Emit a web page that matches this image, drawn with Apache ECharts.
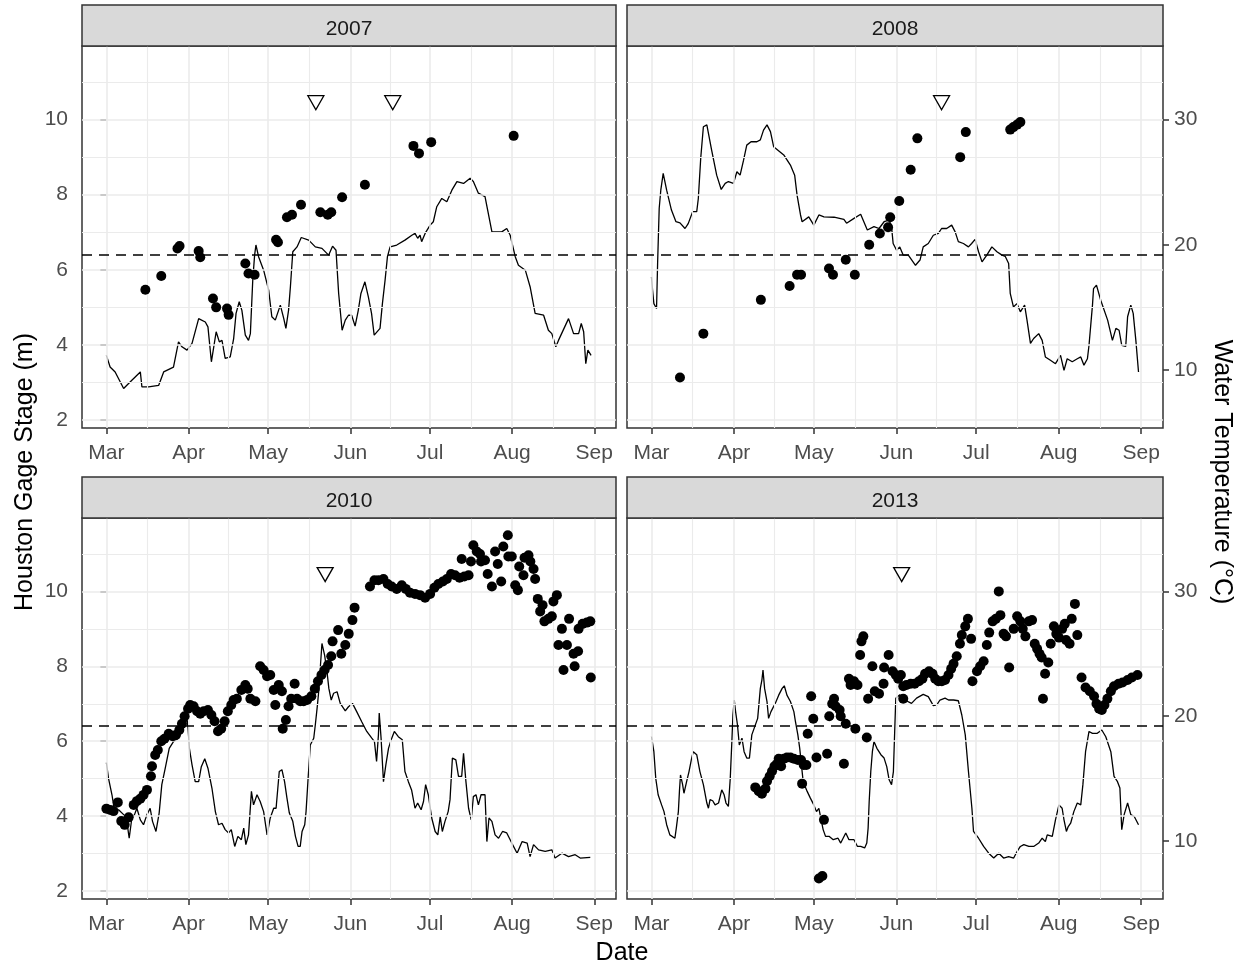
<!DOCTYPE html>
<html><head><meta charset="utf-8">
<script src="https://cdn.jsdelivr.net/npm/echarts@6/dist/echarts.min.js"></script>
<style>html,body{margin:0;padding:0;background:#fff;} #chart{width:1243px;height:966px;}</style>
</head><body><div id="chart"></div>
<script>
// ---------- data ----------
const years = ['2007', '2008', '2010', '2013'];
const monthStarts = [0, 31, 61, 92, 122, 153, 184];   // days since Mar 1
const monthLabels = ['Mar', 'Apr', 'May', 'Jun', 'Jul', 'Aug', 'Sep'];
const monthMids = [15.5, 46, 76.5, 107, 137.5, 168.5];
const stageMajor = [2, 4, 6, 8, 10];
const stageMinor = [3, 5, 7, 9, 11];
const tempTicks = [10, 20, 30];
const thresholdStage = 6.4;
const markerStage = 10.45;
const stageRange = [1.787, 11.96];
const tempPerMetre = 3;

// Houston gage stage (m): [day since Mar 1, stage]
const stage2007 = [[0,3.72],[1.4,3.41],[3.3,3.28],[6.5,2.84],[9.6,3.06],[12.8,3.28],[13.4,2.88],[15.9,2.88],[19.7,2.92],[21.6,3.28],[25.3,3.41],[27.2,4.08],[28.5,3.95],[30.4,3.86],[32.3,4.04],[34.8,4.70],[37.3,4.61],[38.3,4.48],[39.6,3.55],[41.4,4.35],[42.6,4.08],[43.6,4.12],[44.8,3.64],[46.7,3.68],[48.0,4.17],[48.9,4.84],[50.1,5.15],[51.1,4.92],[52.4,4.26],[53.6,4.12],[54.3,4.30],[55.2,5.72],[55.9,6.39],[56.4,6.66],[57.4,6.35],[59.3,5.99],[61.2,5.46],[62.4,4.75],[63.7,4.66],[65.6,5.06],[66.9,4.70],[67.7,4.44],[68.7,4.92],[69.4,5.55],[70.3,6.48],[71.9,6.61],[73.5,6.86],[76.3,6.79],[78.8,6.61],[81.3,6.57],[83.8,6.39],[85.3,6.63],[86.6,6.52],[87.6,5.37],[88.9,4.39],[90.1,4.66],[91.3,4.79],[92.5,4.79],[93.8,4.50],[95,4.92],[96,5.37],[97.5,5.68],[98.8,5.28],[100,4.84],[101,4.26],[103.2,4.44],[104.1,5.10],[105.1,5.72],[106,6.35],[107,6.61],[109.5,6.66],[112.6,6.79],[115.2,6.92],[116.4,6.97],[117.4,6.84],[118.3,6.92],[118.9,6.75],[120.2,6.97],[122.1,7.19],[123.3,7.28],[124.6,7.68],[126.5,7.90],[128.4,7.81],[130.3,8.12],[132.2,8.35],[134.7,8.30],[137.2,8.44],[138.4,8.35],[140.3,8.04],[142.8,7.95],[145.4,7.01],[149.1,7.01],[151,7.10],[152.3,6.92],[154.2,6.35],[155.4,6.12],[158,5.99],[159.8,5.55],[161.7,4.84],[164.9,4.79],[166.7,4.39],[168,4.30],[169.5,3.95],[170.5,4.12],[174.3,4.70],[176.2,4.30],[178.1,4.30],[179.1,4.57],[180,4.35],[180.8,3.50],[181.6,3.86],[182.8,3.72]];
const stage2008 = [[0,5.81],[0.4,5.46],[0.9,5.10],[1.9,4.97],[2.3,6.17],[2.9,7.64],[3.5,8.12],[4.4,8.57],[5.7,8.12],[7.5,7.59],[9.2,7.28],[10.7,7.25],[12.6,7.10],[13.8,7.23],[15.5,7.55],[17,7.55],[17.6,7.90],[18.5,8.97],[19.5,9.81],[20.8,9.86],[22.6,9.19],[24.5,8.52],[26.2,8.14],[27.7,8.30],[28.9,8.35],[30.8,8.30],[32.1,8.61],[33.3,8.52],[34.6,8.92],[35.8,9.32],[37.4,9.41],[39.6,9.41],[40.9,9.46],[42.1,9.72],[43.4,9.86],[44.7,9.68],[45.9,9.28],[49.7,9.06],[52.2,8.79],[53.8,8.52],[54.7,7.99],[56,7.46],[56.6,7.28],[59.1,7.41],[61,7.19],[62.9,7.46],[64.8,7.41],[68.6,7.40],[72.3,7.34],[73.3,7.24],[76.1,7.37],[78.6,7.48],[81.1,7.06],[83.6,7.15],[85.5,7.10],[87.4,7.28],[89.3,7.32],[90.2,7.15],[90.8,6.70],[92.1,6.52],[93.3,6.61],[94.6,6.39],[96.5,6.39],[99.2,6.12],[100.9,6.26],[102.1,6.61],[104,6.70],[105.9,6.92],[107.8,6.97],[109,7.10],[110.9,7.10],[112.8,7.19],[114.1,7.01],[115.3,6.75],[117.2,6.70],[119.1,6.61],[120.3,6.70],[121.6,6.81],[122.9,6.48],[124.2,6.21],[126,6.39],[127.9,6.61],[129.8,6.48],[131.7,6.39],[132.9,6.36],[134.2,6.17],[134.8,5.37],[136,5.01],[137.3,5.10],[138.6,4.88],[140.2,5.06],[141.1,4.66],[142.4,4.04],[143.6,4.17],[145.5,4.30],[146.8,4.12],[148,3.68],[149.9,3.59],[151.8,3.50],[153.7,3.72],[155,3.32],[156.2,3.63],[158.1,3.55],[160,3.63],[161.3,3.68],[162.5,3.46],[163.8,3.63],[164.4,3.99],[165.7,5.06],[166.1,5.50],[167.2,5.59],[168.8,5.19],[171.4,4.66],[173.2,4.12],[174.5,4.44],[175.7,4.39],[176.7,3.99],[178.2,3.96],[178.9,4.75],[180.1,5.06],[181,4.84],[182,4.12],[183,3.28]];
const stage2010 = [[0,5.43],[0.8,5.01],[2.1,4.57],[3.1,4.12],[4.6,4.17],[6.5,4.04],[7.7,3.86],[8.6,3.41],[9.6,3.95],[10.6,4.04],[11.5,4.21],[12.8,3.90],[14,3.77],[15.3,4.04],[16.5,4.21],[17.4,3.86],[18.7,3.59],[19.9,4.08],[20.9,4.84],[22.2,5.28],[23.7,5.81],[25.3,5.99],[27.2,6.08],[29.1,6.35],[30.4,6.61],[30.8,6.35],[31.3,5.81],[32.3,5.37],[33.5,4.92],[34.8,4.92],[35.8,5.32],[37.1,5.53],[38.3,5.28],[39.8,4.75],[41.1,4.12],[42.3,3.77],[43.6,3.81],[44.8,3.64],[46.1,3.55],[47.1,3.64],[48.4,3.19],[49.6,3.46],[50.9,3.37],[51.8,3.68],[52.6,3.24],[53.6,3.50],[54.7,4.66],[55.5,4.30],[56.8,4.57],[58,4.39],[59.3,4.12],[60.6,3.50],[61.8,3.95],[63.1,4.21],[64,4.21],[65.2,5.19],[66.2,5.24],[67.2,4.92],[68.1,4.48],[69,4.08],[70.3,3.86],[71.3,3.46],[72.3,3.19],[73.1,3.19],[73.8,3.59],[74.8,3.77],[75.3,4.12],[76,4.92],[76.9,5.90],[78.2,6.08],[78.8,6.44],[79.6,6.97],[80.3,7.50],[80.7,7.99],[81.3,8.61],[82.3,8.30],[83.2,7.86],[83.9,7.41],[84.8,7.10],[85.7,7.28],[87,7.32],[88.2,7.01],[90.1,6.81],[91.3,6.92],[92.8,7.01],[94.4,6.79],[96.3,6.52],[98.2,6.26],[100.1,6.08],[101.1,5.99],[101.9,5.46],[102.6,6.17],[102.9,6.75],[103.6,6.08],[104.5,4.92],[105.4,5.37],[106.4,5.81],[107.4,6.04],[108.6,6.26],[110.1,6.12],[111.6,6.04],[112.6,5.19],[113.9,4.92],[115.1,4.70],[116.4,4.21],[117.4,4.35],[118.7,4.17],[119.6,4.39],[120.4,4.84],[121.4,4.57],[122.7,3.95],[124,3.59],[125,3.50],[125.9,3.99],[126.7,3.59],[127.7,3.86],[128.9,4.12],[129.6,4.44],[130.2,5.19],[130.5,5.55],[131.8,5.50],[132.8,5.06],[134,5.06],[134.7,5.68],[135.6,4.92],[136.6,4.21],[137.6,3.90],[138.4,4.52],[139.4,4.57],[140.3,4.30],[141.3,4.57],[142.8,4.57],[143.5,3.32],[144.3,3.95],[145.4,3.86],[146.6,3.50],[147.9,3.41],[149.4,3.59],[151,3.55],[152.9,3.28],[154.9,3.01],[156.8,3.32],[158.7,3.28],[159.8,2.92],[161.1,3.24],[163,3.10],[165.5,3.06],[168,3.10],[169.2,2.88],[171.8,3.01],[174.3,2.92],[176.8,2.97],[178.7,2.88],[182.5,2.90]];
const stage2013 = [[0,6.12],[0.9,5.72],[1.6,5.01],[2.5,4.57],[3.8,4.30],[4.7,4.12],[5.7,3.77],[6.9,3.50],[8.8,3.41],[9.4,3.72],[10.1,4.12],[10.5,4.66],[10.9,5.10],[11.7,4.84],[12.2,4.61],[13.2,4.92],[14.1,5.19],[15.1,5.55],[15.7,5.72],[17,5.64],[18.2,5.19],[19.5,4.84],[20.8,4.35],[21.4,4.21],[22,4.44],[23,4.41],[23.9,4.30],[25.2,4.35],[26.4,4.70],[27.3,4.57],[28,4.35],[28.9,4.26],[29.6,5.01],[30.2,5.99],[30.6,6.70],[31.1,7.10],[31.6,6.79],[32.3,6.44],[33,5.90],[34,6.08],[34.8,5.72],[35.8,5.55],[36.8,5.55],[37.7,6.17],[38.6,6.35],[39.9,6.61],[40.9,7.41],[41.5,7.64],[41.9,7.90],[42.5,7.41],[43.4,7.06],[44,6.61],[44.9,6.79],[46.5,7.01],[47.8,7.23],[49.1,7.41],[49.9,7.48],[50.9,7.23],[52.2,7.06],[53.5,6.79],[54.1,6.52],[55,6.17],[55.7,5.81],[56.2,5.46],[57,4.92],[58.5,4.66],[59.7,4.48],[61,4.30],[62,4.12],[62.9,4.21],[63.5,3.99],[64.5,3.64],[65.4,3.46],[66.7,3.46],[68.3,3.37],[70.1,3.41],[71.1,3.28],[73,3.55],[74.2,3.37],[76.1,3.37],[77.4,3.19],[78.6,3.19],[80.1,3.15],[80.9,3.28],[81.4,3.68],[81.8,4.39],[82.4,5.19],[83,5.72],[83.6,5.99],[84.7,5.81],[86.2,5.64],[87.4,5.55],[88.4,5.32],[89.3,4.97],[90.2,4.84],[90.9,5.19],[91.4,6.30],[91.8,7.15],[93.3,7.24],[95.2,7.10],[97.7,7.01],[99.6,7.15],[102.1,7.25],[104,7.19],[105.9,6.95],[107.2,6.97],[108.4,7.10],[110.3,7.15],[111.6,7.10],[113.5,7.10],[115.3,7.08],[116.6,6.70],[117.9,6.17],[119.1,5.19],[120.4,4.21],[121,3.59],[122.9,3.41],[124.8,3.19],[126.7,3.01],[128.6,2.88],[130.5,3.01],[132.3,2.88],[134.2,2.92],[136.1,2.88],[137.4,3.06],[138.6,3.19],[139.9,3.24],[141.8,3.19],[143.6,3.19],[145.5,3.28],[146.8,3.41],[148,3.32],[148.7,3.50],[150.6,3.46],[151.8,3.90],[153.1,4.30],[154.3,4.21],[155,3.90],[155.9,3.59],[156.6,3.72],[157.5,3.81],[158.7,4.12],[160,4.35],[161.3,4.30],[162.1,4.84],[163.1,5.72],[164.4,6.26],[165.7,6.21],[167.5,6.21],[169.2,6.30],[170.7,6.12],[172.6,5.72],[173.8,5.06],[175.1,4.92],[176,4.75],[176.7,3.64],[177.6,4.04],[178.9,4.35],[180.1,4.04],[181.4,3.99],[183,3.77]];

// Water temperature (°C): [day since Mar 1, temperature]
const temp2007 = [[14.7,16.4],[20.7,17.5],[26.8,19.7],[27.6,19.9],[34.8,19.5],[35.4,19.0],[40.2,15.7],[41.4,15.0],[45.5,14.9],[46.1,14.4],[52.4,18.5],[53.6,17.7],[55.9,17.6],[64,20.4],[64.7,20.2],[68.1,22.2],[70,22.4],[73.4,23.2],[80.7,22.6],[83.5,22.4],[84.8,22.6],[88.9,23.8],[97.5,24.8],[115.8,27.9],[117.9,27.3],[122.5,28.2],[153.6,28.7]];
const temp2008 = [[10.7,9.4],[19.5,12.9],[41.1,15.6],[51.9,16.7],[54.7,17.6],[56.2,17.6],[66.7,18.1],[68.2,17.6],[73,18.8],[76.4,17.6],[81.8,20.0],[85.8,20.9],[88.9,21.4],[89.7,22.2],[93.1,23.5],[97.4,26.0],[99.9,28.5],[116,27.0],[118.1,29.0],[134.8,29.2],[136,29.4],[137.4,29.6],[138.6,29.8]];
const temp2010 = [[0,12.6],[1.5,12.5],[2.7,12.4],[4.3,13.1],[5.6,11.6],[6.9,11.3],[8.4,11.9],[10.3,12.9],[11.5,13.2],[12.8,13.4],[14,13.7],[15.3,14.1],[16.8,15.2],[17.2,16.0],[18.4,16.9],[19.4,17.3],[20.7,18.0],[21.9,18.2],[23.5,18.6],[25,18.4],[26.2,18.5],[27.5,18.9],[28.5,19.4],[29.5,20.0],[30.8,20.6],[31.6,20.9],[32.9,20.8],[34.2,20.4],[35.4,20.2],[36.7,20.4],[38.3,20.5],[39.6,20.1],[40.8,19.6],[42.1,18.8],[43.3,19.0],[44.6,19.6],[45.8,20.4],[47.1,20.9],[48,21.3],[49.2,21.4],[50.9,22.1],[52.4,22.5],[53.3,22.2],[54.3,21.4],[56.2,21.2],[58,24.0],[59.3,23.7],[60.6,23.2],[61.8,23.3],[63.1,22.1],[63.7,20.9],[65,22.5],[66.2,22.0],[66.5,19.0],[67.7,19.7],[68.7,20.8],[69.7,21.4],[71,22.6],[71.9,21.4],[73.1,21.2],[74.4,21.2],[75.7,21.3],[77.3,21.6],[78.6,22.2],[79.8,22.8],[81.1,23.3],[82.3,23.7],[83.6,24.1],[84.8,24.8],[85.3,26.0],[87.4,26.9],[88.6,25.0],[90.1,25.7],[91.4,26.6],[92.8,27.7],[93.6,28.7],[99.4,30.4],[101.1,30.9],[102.6,30.9],[104.5,31.0],[106.1,30.6],[107.6,30.4],[109.5,30.2],[111.4,30.5],[112.9,30.2],[114.5,29.9],[116.4,29.8],[118.3,29.7],[120.2,29.5],[122.1,29.8],[123.7,30.3],[125.2,30.6],[126.9,30.8],[128.4,31.0],[130,31.4],[131.5,31.3],[133.2,31.1],[134,32.6],[135,31.2],[136.6,31.3],[137.5,32.4],[138.4,33.7],[139.7,33.2],[140.9,33.0],[141.3,32.4],[142.8,32.5],[143.8,31.4],[145.4,30.4],[146.6,33.2],[147.6,32.2],[148.9,30.8],[149.7,33.6],[151.4,34.5],[151.6,32.8],[152.9,32.8],[154.2,30.5],[155.2,30.1],[155.7,32.0],[157.3,31.3],[157.7,32.7],[159.2,32.9],[159.9,32.4],[161.1,31.8],[161.7,31.0],[162.7,29.4],[163.6,28.4],[164.5,28.9],[165.2,27.6],[166.7,27.8],[168,28.0],[168.6,29.2],[169.9,29.7],[170.5,25.7],[171.8,27.0],[172.4,23.7],[173.7,25.7],[174.5,27.8],[176.2,25.0],[176.6,24.0],[177.9,25.2],[178.1,27.0],[179.6,27.4],[181.2,27.5],[182.5,27.6],[182.7,23.1]];
const temp2013 = [[39,14.3],[40.3,14.0],[41.5,13.8],[42.8,14.2],[43.4,14.8],[44.4,15.2],[45.3,15.6],[46.2,16.0],[47.2,16.2],[47.8,16.6],[48.7,16.0],[49.7,16.6],[50.9,16.7],[52.2,16.7],[53.5,16.6],[55,16.5],[56.2,16.5],[56.6,14.6],[57.2,16.1],[58.2,16.1],[58.7,18.6],[60,21.6],[60.8,19.8],[62,16.7],[62.9,7.0],[64.2,7.2],[64.8,11.7],[66,17.0],[66.8,20.0],[67.9,21.0],[68.6,21.4],[69.2,20.8],[70.7,20.5],[71.1,20.0],[72.3,16.2],[73,19.4],[74.2,23.0],[74.8,22.5],[76.1,22.8],[76.6,19.0],[77.4,22.5],[78.4,24.9],[78.9,26.0],[79.6,26.4],[80.9,18.3],[81.4,21.4],[83,24.0],[83.9,22.0],[85.5,21.8],[87.2,22.6],[87.4,23.9],[89.1,24.9],[90.6,23.6],[91.8,23.3],[92.7,23.0],[93.7,23.3],[94.6,21.4],[94.6,22.4],[95.8,22.5],[97.4,22.6],[98.9,22.6],[100.5,22.8],[101.8,23.0],[102.8,23.4],[104.3,23.6],[105.6,23.4],[106.6,23.0],[107.8,22.8],[109.1,22.8],[110.3,22.9],[111.6,23.3],[112.6,23.8],[113.5,24.2],[114.7,24.8],[115.9,25.8],[116.6,26.5],[117.9,27.2],[118.9,27.8],[120.1,26.2],[120.6,22.8],[122.3,23.6],[123.5,24.0],[124.8,24.4],[126,25.7],[126.9,26.7],[128.2,27.6],[129.4,27.8],[130.5,30.0],[131.1,28.1],[132.3,26.6],[133.2,26.4],[134.4,23.9],[136.1,27.0],[137.4,28.0],[138.6,27.6],[139.5,27.0],[140.5,26.4],[141.8,27.6],[143,27.7],[144,25.8],[144.9,25.4],[145.8,25.0],[146.6,24.7],[147.1,21.4],[147.9,23.4],[149.1,24.3],[150,25.8],[151.2,27.2],[152.1,26.6],[153.1,26.3],[154.3,27.0],[155.3,27.4],[155.8,26.1],[157.1,25.8],[157.9,27.8],[159.1,29.0],[160,26.5],[161.6,23.1],[163.1,22.3],[164.7,22.0],[166.3,21.6],[167.2,21.0],[168.2,20.6],[169.2,20.5],[170.2,20.9],[171.3,21.4],[172.6,22.0],[173.8,22.4],[175.5,22.6],[177,22.7],[178.9,22.9],[180.5,23.1],[182.6,23.3]];

// triangle markers (days since Mar 1)
const marker2007 = [79, 108];
const marker2008 = [109];
const marker2010 = [82.5];
const marker2013 = [94];

const stageByYear = [stage2007, stage2008, stage2010, stage2013];
const tempByYear = [temp2007, temp2008, temp2010, temp2013];
const markerByYear = [marker2007, marker2008, marker2010, marker2013];

// ---------- layout / style ----------
const FONT = '"Liberation Sans", Arial, sans-serif';
const panels = [
  {left: 82, top: 46, width: 534, height: 382},
  {left: 627, top: 46, width: 536, height: 382},
  {left: 82, top: 518, width: 534, height: 381},
  {left: 627, top: 518, width: 536, height: 381}
];
const stripH = 41;
const gridColor = '#ebebeb';
const darkLine = '#333333';

const chart = echarts.init(document.getElementById('chart'), null, {renderer: 'canvas'});

const grids = [], xAxes = [], yAxes = [], series = [], graphics = [];

panels.forEach((p, i) => {
  const isLeft = i % 2 === 0;
  grids.push({left: p.left, top: p.top, width: p.width, height: p.height,
    show: true, borderColor: darkLine, borderWidth: 1.5, backgroundColor: 'transparent', containLabel: false});
  xAxes.push({
    type: 'value', gridIndex: i, min: -9.2, max: 192.2,
    axisLine: {show: false}, splitLine: {show: false},
    axisTick: {show: true, customValues: monthStarts, length: 6, lineStyle: {color: darkLine, width: 1.5}},
    axisLabel: {customValues: monthStarts, margin: 15, color: '#4d4d4d', fontSize: 21, fontFamily: FONT,
      formatter: v => monthLabels[monthStarts.indexOf(v)] || ''}
  });
  yAxes.push({
    type: 'value', gridIndex: i, position: 'left', min: stageRange[0], max: stageRange[1],
    show: isLeft,
    axisLine: {show: false}, splitLine: {show: false},
    axisTick: {show: true, customValues: stageMajor, length: 6, lineStyle: {color: darkLine, width: 1.5}},
    axisLabel: {customValues: stageMajor, margin: 14, color: '#4d4d4d', fontSize: 21, fontFamily: FONT}
  });
  yAxes.push({
    type: 'value', gridIndex: i, position: 'right',
    min: stageRange[0] * tempPerMetre, max: stageRange[1] * tempPerMetre,
    show: !isLeft,
    axisLine: {show: false}, splitLine: {show: false},
    axisTick: {show: true, customValues: tempTicks, length: 6, lineStyle: {color: darkLine, width: 1.5}},
    axisLabel: {customValues: tempTicks, margin: 11, color: '#4d4d4d', fontSize: 21, fontFamily: FONT}
  });

  const gl = [];
  monthStarts.forEach(v => gl.push({xAxis: v, lineStyle: {color: gridColor, width: 1.6, type: 'solid'}}));
  monthMids.forEach(v => gl.push({xAxis: v, lineStyle: {color: gridColor, width: 1.1, type: 'solid'}}));
  stageMajor.forEach(v => gl.push({yAxis: v, lineStyle: {color: gridColor, width: 1.6, type: 'solid'}}));
  stageMinor.forEach(v => gl.push({yAxis: v, lineStyle: {color: gridColor, width: 1.1, type: 'solid'}}));

  series.push({
    type: 'line', xAxisIndex: i, yAxisIndex: 2 * i, data: [], z: 1, silent: true,
    markLine: {silent: true, symbol: ['none', 'none'], label: {show: false}, animation: false,
      emphasis: {disabled: true}, data: gl}
  });
  series.push({
    type: 'line', xAxisIndex: i, yAxisIndex: 2 * i, data: stageByYear[i], z: 3,
    showSymbol: false, symbol: 'none', silent: true,
    lineStyle: {color: '#000', width: 1.3}
  });
  series.push({
    type: 'line', xAxisIndex: i, yAxisIndex: 2 * i, data: [], z: 4, silent: true,
    markLine: {silent: true, symbol: ['none', 'none'], label: {show: false}, animation: false,
      emphasis: {disabled: true},
      data: [{yAxis: thresholdStage, lineStyle: {color: '#000', width: 1.5, type: [10, 7]}}]}
  });
  series.push({
    type: 'scatter', xAxisIndex: i, yAxisIndex: 2 * i + 1, data: tempByYear[i], z: 5, silent: true,
    symbol: 'circle', symbolSize: 10, itemStyle: {color: '#000', opacity: 1}
  });
  series.push({
    type: 'scatter', xAxisIndex: i, yAxisIndex: 2 * i, z: 6, silent: true,
    data: markerByYear[i].map(d => [d, markerStage]),
    symbol: 'triangle', symbolRotate: 180, symbolSize: [16, 14],
    itemStyle: {color: '#fff', borderColor: '#000', borderWidth: 1.3, opacity: 1}
  });

  // facet strip
  graphics.push({type: 'rect', silent: true, z: 10,
    shape: {x: p.left, y: p.top - stripH, width: p.width, height: stripH},
    style: {fill: '#d9d9d9', stroke: darkLine, lineWidth: 1.5}});
  graphics.push({type: 'text', silent: true, z: 11,
    x: p.left + p.width / 2, y: p.top - stripH / 2 + 4,
    style: {text: years[i], fill: '#1a1a1a', font: '21px ' + FONT,
      align: 'center', verticalAlign: 'middle', textAlign: 'center', textVerticalAlign: 'middle'}});
});

graphics.push({type: 'text', silent: true, x: 25, y: 472, rotation: Math.PI / 2,
  style: {text: 'Houston Gage Stage (m)', fill: '#000', font: '25px ' + FONT,
    align: 'center', verticalAlign: 'middle', textAlign: 'center', textVerticalAlign: 'middle'}});
graphics.push({type: 'text', silent: true, x: 1222, y: 472, rotation: -Math.PI / 2,
  style: {text: 'Water Temperature (°C)', fill: '#000', font: '25px ' + FONT,
    align: 'center', verticalAlign: 'middle', textAlign: 'center', textVerticalAlign: 'middle'}});
graphics.push({type: 'text', silent: true, x: 622, y: 953,
  style: {text: 'Date', fill: '#000', font: '25px ' + FONT,
    align: 'center', verticalAlign: 'middle', textAlign: 'center', textVerticalAlign: 'middle'}});

chart.setOption({
  animation: false,
  backgroundColor: '#ffffff',
  grid: grids, xAxis: xAxes, yAxis: yAxes, series: series, graphic: graphics
});
</script>
</body></html>
